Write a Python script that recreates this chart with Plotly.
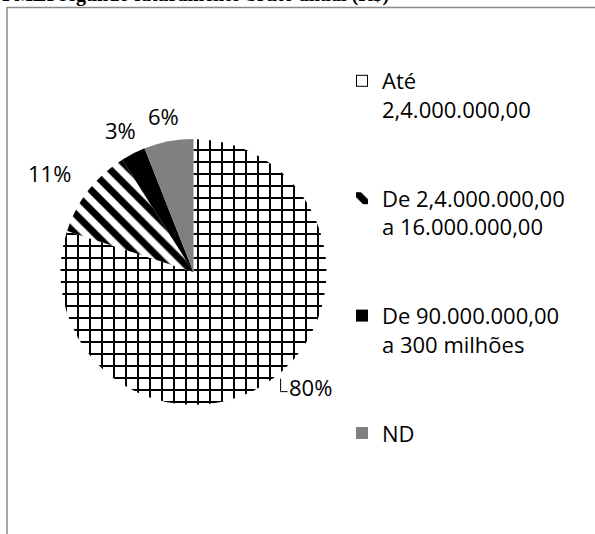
import math
import plotly.graph_objects as go

# Revenue bands (legend text, with line breaks) and their shares in %
faixas = [
    "Até<br>2,4.000.000,00",
    "De 2,4.000.000,00<br>a 16.000.000,00",
    "De 90.000.000,00<br>a 300 milhões",
    "ND",
]
percentuais = [80, 11, 3, 6]

# Fill styles per band
cores = ["white", "white", "black", "#808080"]
padroes = ["+", "\\", "", ""]

titulo = "PMEI segundo faturamento bruto anual (R$)"

W, H = 595, 534
FONT = "Open Sans"
FS = 22


def legenda(texto, linhas=4, ultimo=False):
    """Pad a legend entry with blank lines so entries are evenly spaced."""
    n = texto.count("<br>") + 1
    if ultimo:
        return texto
    return texto + "<br>\u00a0" * (linhas - n)


rotulos = [legenda(t, ultimo=(i == len(faixas) - 1)) for i, t in enumerate(faixas)]

# pie placement in pixels (centre and radius)
cx, cy, r = 193.5, 272.0, 133.0

fig = go.Figure(
    go.Pie(
        labels=rotulos,
        values=percentuais,
        sort=False,
        direction="clockwise",
        rotation=0,
        marker=dict(
            colors=cores,
            line=dict(width=0),
            pattern=dict(
                shape=padroes,
                fgcolor="black",
                fgopacity=1,
                fillmode="overlay",
                size=[12, 14, 8, 8],
                solidity=[0.3, 0.5, 0.3, 0.3],
            ),
        ),
        textinfo="none",
        hoverinfo="label+percent",
        domain=dict(
            x=[(cx - r) / W, (cx + r) / W],
            y=[1 - (cy + r) / H, 1 - (cy - r) / H],
        ),
    )
)

# Percentage labels just outside each slice, along its middle angle
# (small per-label nudges, in pixels)
ajustes = [(19, -14), (-12, -2), (0, 0), (0, 0)]

anotacoes = []
formas = []
total = sum(percentuais)
acum = 0.0
gap = 12
for i, v in enumerate(percentuais):
    meio = (acum + v / 2) / total * 2 * math.pi
    acum += v
    ux, uy = math.sin(meio), -math.cos(meio)
    texto = f"{v}%"
    w = 12.6 * (len(texto) - 1) + 19
    h = 28
    px = cx + (r + gap) * ux + (w / 2) * ux + ajustes[i][0]
    py = cy + (r + gap) * uy + (h / 2) * uy + ajustes[i][1]
    anotacoes.append(
        dict(
            text=texto,
            xref="paper",
            yref="paper",
            x=px / W,
            y=1 - py / H,
            xanchor="center",
            yanchor="middle",
            showarrow=False,
            font=dict(family=FONT, size=FS, color="black"),
        )
    )
    if i == 0:
        # short leader on the big slice's label
        lx = px - w / 2 - 8
        formas.append(
            dict(
                type="path",
                xref="paper",
                yref="paper",
                path=(
                    f"M{lx / W},{1 - (py - 8) / H} "
                    f"L{lx / W},{1 - (py + 5) / H} "
                    f"L{(lx + 7) / W},{1 - (py + 5) / H}"
                ),
                line=dict(color="black", width=1),
            )
        )

# chart frame (only its top and left edges fall inside the page)
formas.append(
    dict(
        type="rect",
        xref="paper",
        yref="paper",
        x0=7 / W,
        x1=1.05,
        y0=-0.05,
        y1=1 - 7.5 / H,
        line=dict(color="#8a8a8a", width=1.5),
        fillcolor="rgba(0,0,0,0)",
        layer="below",
    )
)

anotacoes.append(
    dict(
        text="<b>" + titulo + "</b>",
        xref="paper",
        yref="paper",
        x=0,
        y=1 - 8.5 / H,
        xanchor="left",
        yanchor="bottom",
        showarrow=False,
        font=dict(family="Liberation Serif", size=20, color="black"),
    )
)

fig.update_layout(
    width=W,
    height=H,
    margin=dict(l=0, r=0, t=0, b=0),
    paper_bgcolor="white",
    plot_bgcolor="white",
    showlegend=True,
    legend=dict(
        x=342 / W,
        xanchor="left",
        y=1 - 60 / H,
        yanchor="top",
        valign="top",
        font=dict(family=FONT, size=FS, color="black"),
        bgcolor="rgba(0,0,0,0)",
        itemclick=False,
        itemdoubleclick=False,
    ),
    shapes=formas,
    annotations=anotacoes,
)

fig.write_html("out.html")
